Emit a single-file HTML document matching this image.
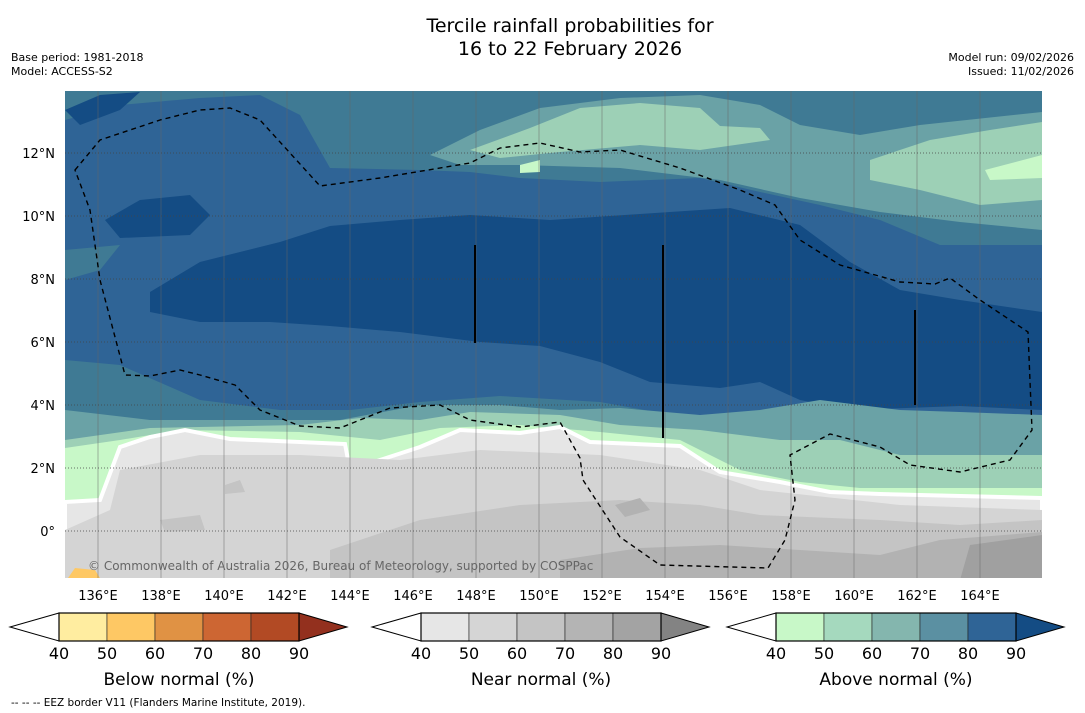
<!DOCTYPE html>
<html><head><meta charset="utf-8">
<style>
body{margin:0;background:#fff;width:1085px;height:713px;overflow:hidden;font-family:"DejaVu Sans","Liberation Sans",sans-serif;}
.t{position:absolute;white-space:nowrap;}
</style></head>
<body>
<div style="position:relative;width:1085px;height:713px;">
<div class="t" style="left:0;width:1140px;top:15px;text-align:center;font-size:19px;line-height:23px;color:#000;">Tercile rainfall probabilities for<br>16 to 22 February 2026</div>
<div class="t" style="left:11px;top:51px;font-size:11px;line-height:14px;">Base period: 1981-2018<br>Model: ACCESS-S2</div>
<div class="t" style="right:11px;top:51px;font-size:11px;line-height:14px;text-align:right;">Model run: 09/02/2026<br>Issued: 11/02/2026</div>
<svg id="map" width="1085" height="713" style="position:absolute;left:0;top:0;" font-family="DejaVu Sans, Liberation Sans, sans-serif">
<defs><clipPath id="mc"><rect x="65" y="91" width="977" height="487"/></clipPath></defs>
<g clip-path="url(#mc)">
<rect x="65" y="91" width="977" height="487" fill="#3f7a94"/>
<path fill="#6aa2a6" d="M430,155 L480,130 540,108 620,98 700,95 760,105 800,125 860,135 920,125 1042,112 L1042,230 960,222 880,212 800,198 720,180 620,168 520,165 460,165Z"/>
<path fill="#9dd0b6" d="M470,150 L530,128 580,108 640,103 700,108 720,126 760,128 770,140 700,150 640,145 560,152 500,158Z M870,160 L930,140 990,130 1042,122 L1042,200 980,205 920,190 870,180Z"/>
<path fill="#c8f8c8" d="M985,170 L1042,155 1042,178 990,180Z M520,165 L540,160 540,172 520,173Z"/>
<path fill="#2f6496" d="M65,120 L120,105 200,98 260,95 300,115 330,168 420,170 470,172 520,178 600,182 700,178 760,192 820,205 880,220 940,245 1042,245 L1042,440 960,440 900,440 820,420 760,430 700,420 600,402 500,396 420,402 350,410 280,410 200,400 120,365 65,360 65,280 100,270 120,245 65,250Z"/>
<path fill="#144c84" d="M150,292 L200,262 280,242 330,226 400,220 470,215 550,220 640,214 730,208 800,225 850,262 900,290 960,300 1042,312 L1042,410 960,406 850,410 800,400 760,382 720,388 650,382 600,362 540,346 480,342 400,332 330,326 270,322 200,322 150,312Z M65,110 L100,95 140,92 120,110 80,125Z M105,220 L140,200 190,195 210,215 190,235 120,238Z"/>
<path fill="#6aa2a6" d="M65,410 L150,420 250,420 340,420 420,405 500,405 560,410 620,408 700,415 760,410 820,400 900,410 960,412 1042,415 L1042,470 65,470Z"/>
<path fill="#9dd0b6" d="M65,440 L150,428 300,425 360,418 420,420 470,412 560,415 620,425 700,430 780,440 840,440 900,455 1042,455 L1042,500 65,500Z"/>
<path fill="#c8f8c8" d="M65,448 L120,440 180,430 300,432 380,440 440,428 520,425 600,432 680,440 740,470 800,482 860,488 1042,488 L1042,500 65,510Z"/>
<path fill="#e6e6e6" stroke="#fff" stroke-width="4" d="M65,502 L100,500 120,447 150,437 185,430 230,439 300,442 345,444 350,470 380,460 420,447 460,430 520,433 560,427 590,442 680,446 720,472 780,482 830,492 880,494 1042,498 L1042,580 65,580Z"/>
<path fill="#d4d4d4" d="M120,470 L200,455 300,455 400,460 480,450 600,455 700,470 760,490 900,505 1042,510 L1042,580 65,580 65,530 110,510Z"/>
<path fill="#c4c4c4" d="M330,550 L420,520 520,505 620,500 700,505 760,515 880,520 960,525 1042,520 L1042,580 330,580Z M160,520 L200,515 205,530 165,532Z M225,485 L240,480 245,492 225,494Z"/>
<path fill="#b2b2b2" d="M560,560 L640,548 720,545 800,550 880,555 940,540 1042,532 L1042,580 560,580Z M615,505 L640,498 650,510 625,517Z"/>
<path fill="#a0a0a0" d="M970,545 L1042,535 L1042,580 960,580Z"/>
<path fill="#fec864" d="M68,578 L75,568 95,570 100,578Z"/>
<g id="grid"></g>
<g stroke="#000" stroke-width="2">
<line x1="475" y1="245" x2="475" y2="343"/><line x1="663" y1="245" x2="663" y2="438"/><line x1="915" y1="310" x2="915" y2="405"/>
</g>
<path fill="none" stroke="#000" stroke-width="1.4" stroke-dasharray="5,4" d="M75,170 L100,140 160,120 200,110 230,108 260,120 320,186 380,178 470,163 500,148 540,143 580,152 620,150 680,168 740,190 775,205 800,240 840,265 900,282 935,284 950,278 980,300 1028,332 1032,430 1010,460 960,472 910,465 880,447 830,434 790,455 795,500 785,540 768,568 660,565 620,537 583,480 580,458 560,422 520,427 470,420 440,405 390,408 340,428 300,426 260,410 235,385 200,375 180,370 150,376 125,375 100,280 90,210 75,170Z"/>
<text x="88" y="570" font-size="12" fill="#666">© Commonwealth of Australia 2026, Bureau of Meteorology, supported by COSPPac</text>
</g>
<g id="ticks"></g>
<g id="cbars"></g>
<text x="11" y="706" font-size="10.5" fill="#000">--  --  -- EEZ border V11 (Flanders Marine Institute, 2019).</text>
</svg>
</div>
<script>
const lonTicks=[136,138,140,142,144,146,148,150,152,154,156,158,160,162,164];
const latTicks=[0,2,4,6,8,10,12];
const cbLevels=[40,50,60,70,80,90];
const belowColors=["#ffeda0","#fec864","#e09244","#cd6633","#b24a24","#93301e"];
const nearColors=["#e6e6e6","#d5d5d5","#c4c4c4","#b4b4b4","#a3a3a3","#838383"];
const aboveColors=["#c8f8c8","#a5d9be","#84b6ae","#5b90a2","#2f6496","#144c84"];
const cbTitles=["Below normal (%)","Near normal (%)","Above normal (%)"];
const NS="http://www.w3.org/2000/svg";
const xs=lon=>66.5+(lon-135)*31.5;
const ys=lat=>531-lat*31.5;
function mk(tag,attrs,parent){const e=document.createElementNS(NS,tag);for(const k in attrs)e.setAttribute(k,attrs[k]);parent.appendChild(e);return e;}
const grid=document.getElementById('grid'),ticks=document.getElementById('ticks');
lonTicks.forEach(l=>{
 const ln=mk('line',{x1:xs(l),x2:xs(l),y1:91,y2:578,stroke:'#666','stroke-width':0.7,'stroke-opacity':0.7},grid);
 
 
 const t=mk('text',{x:xs(l),y:600,'font-size':13,'text-anchor':'middle',fill:'#000'},ticks);
 t.textContent=l+'°E';
 
 
});
latTicks.forEach(l=>{
 const ln=mk('line',{x1:65,x2:1042,y1:ys(l),y2:ys(l),stroke:'#444','stroke-width':0.7,'stroke-dasharray':'1,2'},grid);
 
 
 const t=mk('text',{x:55,y:ys(l)+5,'font-size':13,'text-anchor':'end',fill:'#000'},ticks);
 t.textContent=l===0?'0°':l+'°N';
 
 
});
const cb=document.getElementById('cbars');
[[10,belowColors],[372,nearColors],[727,aboveColors]].forEach((c,i)=>{
 const x0=c[0],cols=c[1],bx=x0+49,w=48,y0=613,h=28;
 const g=mk('g',{},cb);
 
 
 mk('polygon',{points:`${bx},${y0} ${x0},${y0+h/2} ${bx},${y0+h}`,fill:'#fff',stroke:'#000','stroke-width':1},g);
 for(let k=0;k<cbLevels.length-1;k++){
  const r=mk('rect',{x:bx+k*w,y:y0,width:w,height:h,fill:cols[k],stroke:'#222','stroke-width':0.6},g);
  
  
 }
 const ex=bx+(cbLevels.length-1)*w;
 mk('polygon',{points:`${ex},${y0} ${ex+48},${y0+h/2} ${ex},${y0+h}`,fill:cols[cols.length-1],stroke:'#000','stroke-width':1},g);
 mk('rect',{x:bx,y:y0,width:ex-bx,height:h,fill:'none',stroke:'#000','stroke-width':1.2},g);
 cbLevels.forEach((v,k)=>{
  const t=mk('text',{x:bx+k*w,y:659,'font-size':16,'text-anchor':'middle',fill:'#000'},g);
  t.textContent=v;
  
  
 });
 const tt=mk('text',{x:(bx+ex)/2,y:685,'font-size':17,'text-anchor':'middle',fill:'#000'},g);
 tt.textContent=cbTitles[i];
 
 
});
</script>
</body></html>
